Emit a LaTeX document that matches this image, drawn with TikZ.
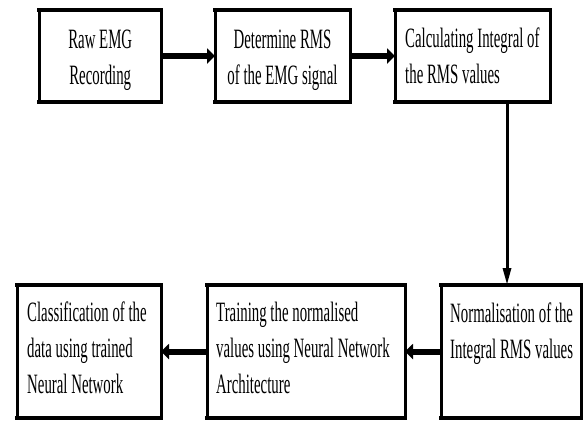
\documentclass[tikz,border=0pt]{standalone}
\usepackage{fontspec}
\setmainfont{Liberation Serif}[FakeStretch=0.53]
\usetikzlibrary{arrows.meta}
\begin{document}
\begin{tikzpicture}[x=1pt,y=-1pt,
  boxnode/.style={draw=none,inner sep=0pt,outer sep=0pt,minimum height=#1},
  vedge/.style={line width=3pt,line cap=rect},
  hedge/.style={line width=4.5pt,line cap=rect},
  txt/.style={inner sep=0pt,font=\fontsize{28}{36}\selectfont},
  harrow/.style={line width=6pt,-{Triangle[length=8pt,width=15pt]}},
  varrow/.style={line width=3pt,-{Triangle[length=17pt,width=8pt]}}]
\useasboundingbox (0,0) rectangle (585,421);
\fill[white] (0,0) rectangle (585,421);
% boxes
\node[boxnode=92pt,minimum width=121.5pt] (b1) at (100.25,56) {};
\node[boxnode=92pt,minimum width=135pt] (b2) at (282.5,56) {};
\node[boxnode=92pt,minimum width=155pt] (b3) at (472.5,56) {};
\node[boxnode=133pt,minimum width=144pt] (b4) at (89,351.5) {};
\node[boxnode=133pt,minimum width=198pt] (b5) at (306,351.5) {};
\node[boxnode=133pt,minimum width=140pt] (b6) at (511,351.5) {};
\foreach \n in {b1,b2,b3,b4,b5,b6}{
  \draw[vedge] (\n.north west) -- (\n.south west) (\n.north east) -- (\n.south east);
  \draw[hedge] (\n.north west) -- (\n.north east) (\n.south west) -- (\n.south east);
}
% texts (base anchor = baseline of the last line)
\node[txt,anchor=base,align=center] (t1) at (100.25,84) {Raw EMG\\Recording};
\node[txt,anchor=base,align=center] (t2) at (282.5,84) {Determine RMS\\of the EMG signal};
\node[txt,anchor=base west,align=left] (t3) at (405,83) {Calculating Integral of\\the RMS values};
\node[txt,anchor=base west,align=left] (t4) at (27,393) {Classification of the\\data using trained\\Neural Network};
\node[txt,anchor=base west,align=left] (t5) at (216,393) {Training the normalised\\values using Neural Network\\Architecture};
\node[txt,anchor=base west,align=left] (t6) at (450,358) {Normalisation of the\\Integral RMS values};
% connectors
\coordinate (vx) at (507,0);
\draw[harrow] (b1.east) -- (b2.west);
\draw[harrow] (b2.east) -- (b3.west);
\draw[varrow] (b3.south -| vx) -- (b6.north -| vx);
\draw[harrow] (b6.west) -- (b5.east);
\draw[harrow] (b5.west) -- (b4.east);
\end{tikzpicture}
\end{document}
